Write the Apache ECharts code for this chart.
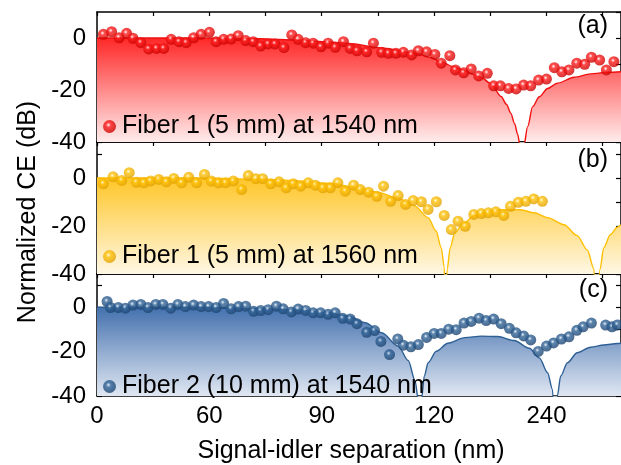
<!DOCTYPE html>
<html><head><meta charset="utf-8">
<script src="https://cdn.jsdelivr.net/npm/echarts@6/dist/echarts.min.js"></script>
<style>html,body{margin:0;padding:0;background:#fff}#c{width:621px;height:465px}</style>
</head><body><div id="c"></div>
<script>
// ---- tick labels ----
const xTickValues = [0, 30, 60, 90, 120];
const xTickLabels = ['0', '60', '90', '120', '240'];
const yTickValues = [0, -20, -40];

// ---- series names ----
const seriesNames = ['Fiber 1 (5 mm) at 1540 nm', 'Fiber 1 (5 mm) at 1560 nm', 'Fiber 2 (10 mm) at 1540 nm'];
const panelLetters = ['(a)', '(b)', '(c)'];

// ---- panel (a): measured ----
const sepA = [1.7,3.9,5.9,7.9,9.6,11.7,13.8,15.9,17.8,19.8,21.9,23.8,25.8,27.8,30.0,31.8,33.8,35.8,37.7,39.7,41.7,43.7,45.7,47.5,49.9,52.0,53.7,55.7,57.7,59.8,61.7,63.6,65.8,67.6,69.4,72.0,73.8,76.0,77.8,79.8,81.8,84.0,85.8,88.0,90.2,91.9,94.2,95.7,97.9,99.9,101.9,104.2,105.9,107.7,109.9,111.9,113.9,115.8,117.9,120.0,122.1,124.1,126.0,128.1,130.2,132.0,134.2,136.0,138.0];
const ceA = [1.4,2.4,0.1,1.8,-0.1,-1.8,-4.2,-4.0,-4.0,-0.5,-1.4,-1.8,0.1,1.4,2.2,-1.4,-0.5,-0.4,0.9,-1.0,-1.4,-3.1,-2.3,-2.3,-3.7,1.2,-0.5,-1.8,-2.0,-3.4,-2.0,-3.6,-1.4,-4.0,-4.9,-5.3,-2.0,-5.5,-5.9,-5.9,-5.5,-6.5,-4.9,-5.3,-6.3,-9.7,-6.8,-12.3,-13.4,-11.9,-14.6,-13.6,-18.4,-18.4,-19.4,-19.6,-18.1,-18.4,-16.2,-15.8,-11.4,-13.0,-12.3,-9.7,-10.1,-7.4,-8.5,-12.3,-9.1];
// ---- panel (a): theory ----
const thSepA = [0,27.4,43.3,53.9,61.9,67.2,76.0,84.9,89.3,91.9,95.1,98.2,100.6,102.6,105.2,107.9,109.3,110.5,111.5,112.3,113.0,113.4,113.9,115.0,116.3,118.1,120.3,122.9,127.4,131.8,136.2,139.9];
const thCeA = [0,0,-0.3,-0.8,-1.5,-2.1,-3.8,-5.8,-7.6,-9.2,-11.0,-12.6,-14.0,-15.2,-17.6,-22.5,-25.5,-29,-33,-37,-42,-60,-42,-34,-26.4,-22.6,-19.4,-17.4,-15.1,-13.8,-13.2,-13.0];

// ---- panel (b): measured ----
const sepB = [1.7,4.3,6.6,8.6,10.5,12.5,14.3,16.5,18.5,20.5,22.6,24.5,26.6,28.7,30.5,32.4,34.3,36.4,38.6,40.4,42.4,44.2,46.4,48.6,50.5,52.4,54.4,56.4,58.3,60.3,62.3,64.3,66.3,68.5,70.3,72.5,74.7,76.5,78.4,80.4,82.4,84.4,86.6,88.4,90.6,92.7,94.6,96.4,98.3,100.6,102.6,104.5,106.5,108.6,110.4,112.5,114.5,116.6,118.9];
const ceB = [-2.4,0.5,-1.0,2.2,-1.8,-2.0,-1.2,-0.6,-1.6,-0.2,-2.0,0.3,-2.0,1.5,-1.3,-2.0,-2.0,-1.3,-4.8,1.0,-0.3,-0.3,-2.4,-1.6,-4.1,-2.4,-3.4,-2.0,-3.0,-4.1,-4.1,-2.0,-5.5,-3.0,-4.8,-5.9,-7.6,-3.4,-9.7,-7.3,-11.0,-9.4,-9.9,-13.1,-9.9,-15.6,-21.5,-18.0,-20.1,-15.2,-14.8,-14.5,-14.1,-15.6,-11.8,-10.1,-9.7,-8.7,-9.7];
// ---- panel (b): theory ----
const thSepB = [0,27.4,43.3,53.9,61.9,68.8,75.1,80.4,84.7,88.4,90.5,91.9,92.7,93.0,93.5,94.3,95.5,97.7,100.8,104.3,107.8,113.1,116.7,120.3,124.7,128.2,130.9,132.7,133.1,134.3,135.3,137.1,138.9,139.9];
const thCeB = [0,0,-0.5,-1.2,-2.2,-3.8,-6.0,-8.5,-11.5,-16.5,-22,-29,-37,-60,-38,-29,-23,-19,-15.7,-13.9,-13.2,-13.2,-14.5,-16.5,-19.5,-24,-30,-38,-60,-38,-29,-23.5,-20.5,-19.5];

// ---- panel (c): measured ----
const sepC = [2.7,3.6,5.7,7.6,9.6,11.7,13.6,15.7,17.6,19.7,21.6,23.6,25.8,27.8,29.8,31.8,33.8,35.8,37.8,39.7,41.8,43.7,45.7,47.9,49.7,51.9,53.7,55.7,57.7,59.7,61.7,63.6,65.6,67.6,69.4,72.0,74.1,75.8,78.1,80.3,81.8,83.8,85.8,88.0,90.0,91.9,93.9,95.9,98.0,99.9,102.0,103.9,105.9,107.9,110.1,111.9,113.9,115.8,117.8,120.0,121.9,124.0,126.0,128.1,129.8,132.0,135.8,137.5,138.9];
const ceC = [2.6,-0.1,-0.1,-0.4,1.0,1.3,-0.1,1.3,1.3,-0.4,1.3,0.3,1.0,0.3,0.3,-0.1,1.7,-0.7,0.3,0.5,-1.8,-1.5,-1.1,0.5,-0.7,-2.1,-0.8,-1.4,-2.5,-2.5,-3.2,-2.5,-5.0,-5.3,-7.4,-11.3,-10.5,-15.4,-21.3,-14.3,-17.1,-17.8,-16.8,-13.6,-11.8,-11.8,-9.9,-10.1,-7.1,-6.4,-4.9,-6.0,-5.3,-7.4,-9.5,-11.5,-12.9,-14.7,-19.9,-17.5,-16.1,-14.3,-13.3,-10.4,-8.8,-7.1,-8.0,-8.8,-8.0];
// ---- panel (c): theory ----
const thSepC = [0,27.4,43.3,53.9,61.9,67.2,71.6,76.0,80.4,83.1,84.9,85.8,86.0,86.6,87.4,88.4,90.6,93.7,98.2,102.6,107.0,111.4,115.4,118.1,120.3,121.6,122.3,122.9,123.8,125.6,128.2,131.8,135.3,138.9,139.9];
const thCeC = [0,0,-0.5,-1.3,-2.5,-4.0,-7.0,-11.5,-17.5,-24,-33,-42,-60,-42,-31,-25,-19.8,-16.2,-13.7,-13.0,-13.2,-15,-18.5,-22.8,-29.5,-37,-60,-40,-31,-25,-20.5,-18,-17,-16.3,-16.2];

// ---- layout / style (kept separate from data) ----
const FONT = '"Liberation Sans", Arial, Helvetica, sans-serif';
const X_MAX = 139.9;
const zip = (xs, ys) => xs.map((x, k) => [x, ys[k]]);
const panels = [
  { top: 12, height: 130, ymax: 10, dots: zip(sepA, ceA), theory: zip(thSepA, thCeA),
    line: '#f01010', gTop: 'rgb(255,40,40)', gBot: 'rgb(255,236,236)',
    ball: ['#ffffff', '#ff2020', '#c80000'], legendTop: 114, letterTop: 14 },
  { top: 142, height: 132, ymax: 15, dots: zip(sepB, ceB), theory: zip(thSepB, thCeB),
    line: '#ffbf00', gTop: 'rgb(255,198,40)', gBot: 'rgb(255,247,228)',
    ball: ['#fffbe0', '#ffc20a', '#e0a000'], legendTop: 244, letterTop: 148 },
  { top: 274, height: 131, ymax: 15, dots: zip(sepC, ceC), theory: zip(thSepC, thCeC),
    line: '#2e5f94', gTop: 'rgb(72,116,176)', gBot: 'rgb(240,243,249)',
    ball: ['#e6eef7', '#336699', '#1d4470'], legendTop: 374, letterTop: 278 }
];

const fmtX = v => {
  const k = xTickValues.findIndex(t => Math.abs(t - v) < 1e-6);
  return k >= 0 ? xTickLabels[k] : '';
};
const fmtY = v => (yTickValues.some(t => Math.abs(t - v) < 1e-6) ? String(v) : '');

const grid = [], xAxis = [], yAxis = [], series = [], legend = [], graphic = [];
const frameLine = { show: true, onZero: false, lineStyle: { color: '#000', width: 1.5 } };
const tickStyle = { color: '#000', width: 1.2 };

panels.forEach((p, i) => {
  grid.push({ left: 97, right: -3, top: p.top, height: p.height });
  const xb = { type: 'value', gridIndex: i, min: 0, max: X_MAX, interval: 15,
    axisLine: frameLine, splitLine: { show: false },
    axisTick: { show: true, inside: true, length: 4, lineStyle: tickStyle } };
  xAxis.push(Object.assign({}, xb, { position: 'bottom',
    axisLabel: { show: i === 2, margin: 8, fontSize: 24, color: '#000', fontFamily: FONT,
      formatter: fmtX, showMaxLabel: false, showMinLabel: true },
    name: i === 2 ? 'Signal-idler separation (nm)' : '', nameLocation: 'middle', nameGap: 43,
    nameTextStyle: { fontSize: 25, color: '#000', fontFamily: FONT, padding: [0, 16, 0, 0] } }));
  xAxis.push(Object.assign({}, xb, { position: 'top', axisLabel: { show: false } }));
  const yb = { type: 'value', gridIndex: i, min: -40, max: p.ymax, interval: 10,
    axisLine: frameLine, splitLine: { show: false },
    axisTick: { show: true, inside: true, length: 5, lineStyle: tickStyle } };
  yAxis.push(Object.assign({}, yb, { position: 'left',
    axisLabel: { show: true, margin: 11, fontSize: 24, color: '#000', fontFamily: FONT,
      formatter: fmtY, showMaxLabel: false },
    name: i === 1 ? 'Normalized CE (dB)' : '', nameLocation: 'middle', nameGap: 54,
    nameTextStyle: { fontSize: 25, color: '#000', fontFamily: FONT, padding: [0, 8, 0, 0] } }));
  yAxis.push(Object.assign({}, yb, { position: 'right', axisLabel: { show: false } }));

  const y0 = p.top + p.height * p.ymax / (p.ymax + 40);
  series.push({
    type: 'line', xAxisIndex: 2 * i, yAxisIndex: 2 * i, data: p.theory,
    showSymbol: false, smooth: 0.3, smoothMonotone: 'x', clip: true, silent: true,
    lineStyle: { color: p.line, width: 1.4 },
    areaStyle: { origin: 'start', opacity: 1,
      color: { type: 'linear', global: true, x: 0, y: y0, x2: 0, y2: p.top + p.height,
        colorStops: [{ offset: 0, color: p.gTop }, { offset: 1, color: p.gBot }] } },
    z: 2
  });
  series.push({
    type: 'scatter', name: seriesNames[i], xAxisIndex: 2 * i, yAxisIndex: 2 * i, data: p.dots,
    symbol: 'circle', symbolSize: 11, clip: false,
    itemStyle: { color: { type: 'radial', x: 0.42, y: 0.38, r: 0.62,
      colorStops: [{ offset: 0, color: p.ball[0] }, { offset: 0.3, color: p.ball[1] }, { offset: 1, color: p.ball[2] }] } },
    z: 3
  });
  legend.push({ data: [seriesNames[i]], left: 103, top: p.legendTop, icon: 'circle',
    itemWidth: 13, itemHeight: 13, itemGap: 0, selectedMode: false, padding: 0,
    textStyle: { fontSize: 25, color: '#000', fontFamily: FONT, padding: [0, 0, 0, 1] } });
  graphic.push({ type: 'text', right: 13, top: p.letterTop, z: 10,
    style: { text: panelLetters[i], fontSize: 25, fontFamily: FONT, fill: '#000' } });
});

const chart = echarts.init(document.getElementById('c'), null, { renderer: 'canvas' });
chart.setOption({
  backgroundColor: '#fff', animation: false,
  grid, xAxis, yAxis, series, legend, graphic, tooltip: { show: false }
});
</script></body></html>
